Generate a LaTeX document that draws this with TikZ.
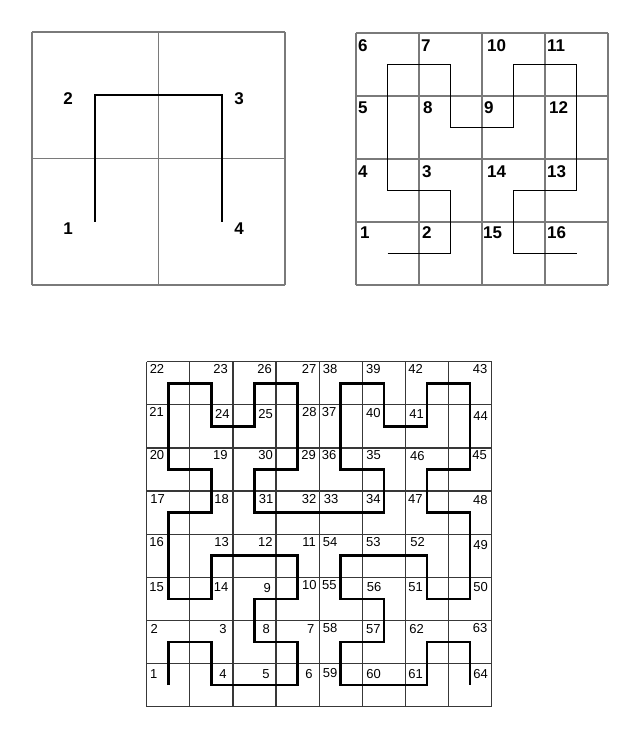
\documentclass[tikz,border=0pt]{standalone}
\usepackage{fontspec}
\setmainfont{Liberation Sans}
\begin{document}
\begin{tikzpicture}[x=1pt,y=-1pt,
  big/.style={font=\fontsize{17}{17}\selectfont\bfseries,inner sep=0pt},
  small/.style={font=\fontsize{13}{13}\selectfont,inner sep=0pt},
  lightgrid/.style={draw=black!52,line width=1.2pt,step=1},
  darkgrid/.style={draw=black!78,line width=1.3pt,step=1},
  curve/.style={line width=1.8pt,line join=miter}]
  \useasboundingbox (0,0) rectangle (639,749);
  % order 1
  \begin{scope}[shift={(32,285)},x=126.5pt,y=126.5pt]
    \draw[lightgrid] (0,0) grid (2,2);
    \draw[curve] plot coordinates {(0.5,0.5) (0.5,1.5) (1.5,1.5) (1.5,0.5)};
  \end{scope}
  \foreach \n/\x/\y in {1/68/229,2/68/99,3/239/99,4/239/229}
    \node[big] (tl\n) at (\x,\y) {\n};
  % order 2
  \begin{scope}[shift={(356,285)},x=63pt,y=63pt]
    \draw[lightgrid] (0,0) grid (4,4);
    \draw[curve,shift={(0.5,0.5)}] plot coordinates {(0,0) (1,0) (1,1) (0,1) (0,3) (1,3) (1,2) (2,2)
      (2,3) (3,3) (3,1) (2,1) (2,0) (3,0)};
  \end{scope}
  \foreach \n/\x/\y in {6/358/46,7/421/46,10/487/46,11/547/46,
                        5/358/108,8/423/108,9/484/108,12/549/108,
                        4/358/172,3/422/172,14/487/172,13/547/172,
                        1/360/233,2/422/233,15/483/233,16/547/233}
    \node[big,anchor=west] (tr\n) at (\x,\y) {\n};
  % order 3
  \begin{scope}[shift={(146.7,706.7)},x=43.125pt,y=43.125pt]
    \draw[darkgrid] (0,0) grid (8,8);
    \draw[curve,line width=2.6pt,shift={(0.5,0.5)}] plot coordinates {(0,0) (0,1) (1,1) (1,0) (3,0) (3,1)
      (2,1) (2,2) (3,2) (3,3) (1,3) (1,2) (0,2) (0,4) (1,4) (1,5) (0,5) (0,7) (1,7) (1,6) (2,6)
      (2,7) (3,7) (3,5) (2,5) (2,4) (5,4) (5,5) (4,5) (4,7) (5,7) (5,6) (6,6) (6,7) (7,7) (7,5)
      (6,5) (6,4) (7,4) (7,2) (6,2) (6,3) (4,3) (4,2) (5,2) (5,1) (4,1) (4,0) (6,0) (6,1) (7,1) (7,0)};
  \end{scope}
  \foreach \n/\x/\y in {22/157/369,23/220.7/369,26/264.7/369,27/309/369,38/330/369,39/373.3/369,42/415.7/369,43/480/369,
                        21/156.7/412,24/222.3/414,25/265.7/414,28/309.3/412,37/329/412,40/373.3/413,41/416.7/414,44/480.7/416,
                        20/157/455,19/220.3/455,30/265.7/455,29/308.7/455,36/329/455,35/373.7/455,46/417.3/456,45/479.7/455,
                        17/157.7/499,18/221.7/499,31/266/499,32/309/499,33/331/499,34/373.3/499,47/415.3/499,48/480.3/500,
                        16/156.7/542,13/221.7/542,12/265.3/542,11/309/542,54/330/542,53/373.3/542,52/417.7/542,49/480.7/545,
                        15/156.7/587,14/221/587,9/267.3/588,10/309.3/585,55/329.3/585,56/374/587,51/415.7/587,50/480.7/587,
                        2/154.3/629,3/223/629,8/266.3/629,7/310.7/629,58/330/628,57/373.3/629,62/416.7/629,63/480/628,
                        1/153.7/674,4/223/674,5/266/674,6/309/674,59/330/673,60/373.7/674,61/415.7/674,64/480.7/674}
    \node[small] (bt\n) at (\x,\y) {\n};
\end{tikzpicture}
\end{document}
